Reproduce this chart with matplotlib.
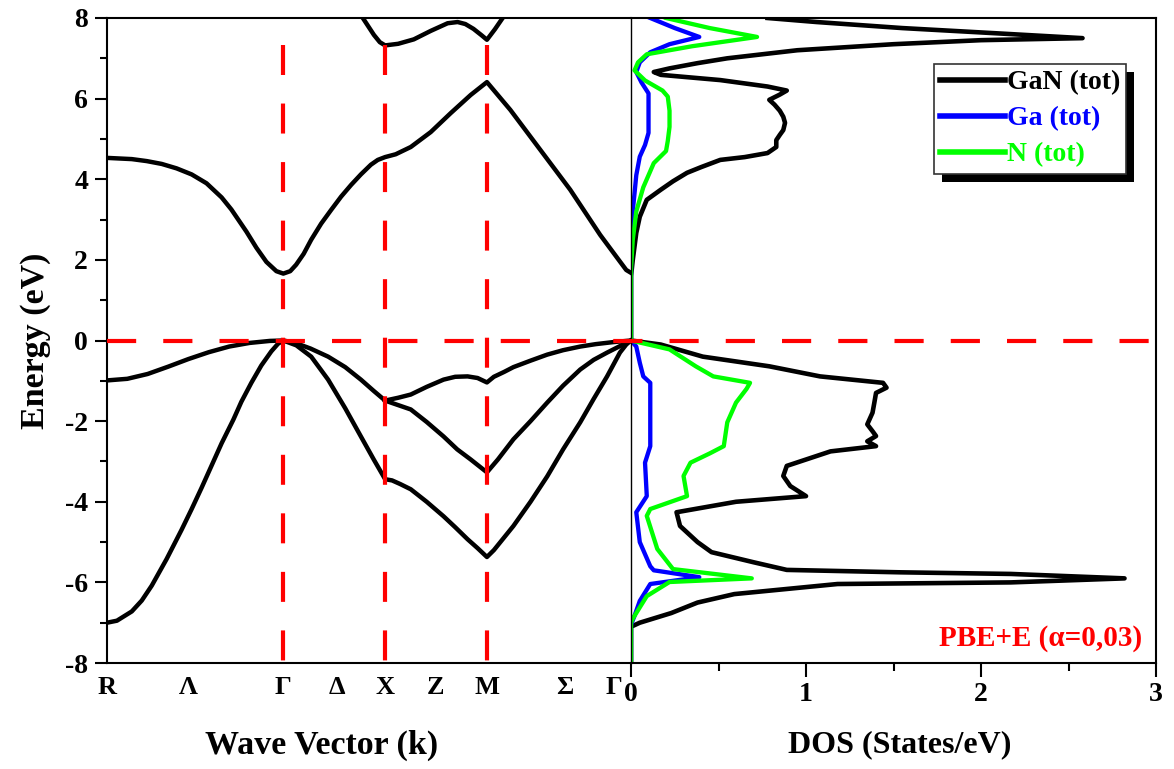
import matplotlib
matplotlib.use("Agg")
import matplotlib.pyplot as plt
from matplotlib.patches import Rectangle
from matplotlib.transforms import IdentityTransform
from matplotlib.ticker import MultipleLocator

plt.rcParams["font.family"] = ["Liberation Serif", "DejaVu Serif"]
plt.rcParams["font.weight"] = "bold"
plt.rcParams["axes.unicode_minus"] = False

# path R - Gamma - X - M - Gamma (k distance)
kpts = [0.0, 0.866, 1.366, 1.866, 2.573]
klabels = ["R", "Γ", "X", "M", ""]
kmid = [0.40, 1.13, 1.615, 2.25]
kmid_labels = ["Λ", "Δ", "Z", "Σ"]

# conduction bands
cb1_k = [0.0, 0.122, 0.196, 0.269, 0.342, 0.416, 0.489, 0.563, 0.611, 0.685, 0.734, 0.783, 0.832, 0.866,
         0.900, 0.929, 0.966, 1.003, 1.052, 1.101, 1.150, 1.199, 1.247, 1.296, 1.330, 1.366,
         1.418, 1.492, 1.590, 1.688, 1.786, 1.866,
         1.981, 2.128, 2.275, 2.422, 2.519, 2.550, 2.573]
cb1_e = [4.53, 4.50, 4.45, 4.38, 4.27, 4.12, 3.90, 3.55, 3.25, 2.70, 2.30, 1.95, 1.72, 1.66,
         1.72, 1.88, 2.15, 2.50, 2.90, 3.24, 3.57, 3.86, 4.12, 4.36, 4.48, 4.55,
         4.62, 4.80, 5.17, 5.64, 6.09, 6.41,
         5.72, 4.73, 3.74, 2.62, 1.96, 1.75, 1.68]

cb2_k = [1.250, 1.311, 1.340, 1.366, 1.43, 1.507, 1.59, 1.673, 1.722, 1.76, 1.80, 1.84, 1.866, 1.905, 1.950]
cb2_e = [8.05, 7.58, 7.40, 7.32, 7.36, 7.47, 7.68, 7.87, 7.90, 7.85, 7.73, 7.57, 7.46, 7.72, 8.05]

# valence bands
vb1_k = [0.0, 0.1, 0.2, 0.3, 0.4, 0.5, 0.6, 0.7, 0.8, 0.866,
         0.92, 1.0, 1.086, 1.17, 1.247, 1.31, 1.366,
         1.43, 1.492, 1.57, 1.653, 1.71, 1.771, 1.82, 1.866,
         1.90, 1.95, 1.996, 2.08, 2.162, 2.24, 2.324, 2.40, 2.485, 2.573]
vb1_e = [-0.99, -0.95, -0.83, -0.65, -0.46, -0.29, -0.15, -0.06, -0.01, 0.0,
         -0.05, -0.20, -0.40, -0.66, -0.97, -1.25, -1.49,
         -1.42, -1.34, -1.15, -0.97, -0.90, -0.89, -0.93, -1.04,
         -0.90, -0.78, -0.66, -0.50, -0.35, -0.24, -0.15, -0.09, -0.04, 0.0]

vb2_k = [1.366, 1.40, 1.492, 1.57, 1.653, 1.72, 1.786, 1.866,
         1.92, 1.996, 2.08, 2.162, 2.24, 2.324, 2.39, 2.456, 2.534, 2.573]
vb2_e = [-1.49, -1.55, -1.71, -2.02, -2.38, -2.70, -2.95, -3.27,
         -2.95, -2.45, -2.00, -1.54, -1.12, -0.72, -0.48, -0.30, -0.10, 0.0]

vb3_k = [0.0, 0.049, 0.122, 0.171, 0.220, 0.293, 0.366, 0.416, 0.465, 0.514, 0.563, 0.621, 0.66, 0.709,
         0.758, 0.807, 0.84, 0.866,
         0.93, 1.003, 1.086, 1.17, 1.247, 1.31, 1.366,
         1.40, 1.44, 1.492, 1.57, 1.653, 1.71, 1.771, 1.82, 1.866,
         1.90, 1.996, 2.08, 2.162, 2.24, 2.324, 2.39, 2.456, 2.519, 2.55, 2.573]
vb3_e = [-7.0, -6.95, -6.72, -6.45, -6.08, -5.42, -4.70, -4.18, -3.65, -3.10, -2.55, -1.96, -1.52, -1.05,
         -0.62, -0.27, -0.08, 0.0,
         -0.12, -0.40, -0.97, -1.68, -2.38, -2.95, -3.44,
         -3.47, -3.56, -3.69, -4.00, -4.36, -4.63, -4.93, -5.15, -5.37,
         -5.20, -4.60, -4.00, -3.37, -2.70, -2.03, -1.45, -0.89, -0.30, -0.10, 0.0]

# density of states
tot_e = [8.0, 7.9, 7.75, 7.62, 7.5, 7.45, 7.35, 7.2, 7.0, 6.88, 6.75, 6.66, 6.59, 6.46, 6.3, 6.2, 6.1,
         5.97, 5.85, 5.7, 5.55, 5.4, 5.22, 5.1, 4.97, 4.8, 4.65, 4.55, 4.48, 4.3, 4.16, 3.95, 3.74,
         3.49, 3.07, 2.67, 2.0, 1.6, 0.0, -0.1, -0.4, -0.64, -0.89, -1.05, -1.17, -1.3, -1.55, -1.79,
         -2.08, -2.25, -2.37, -2.5, -2.62, -2.75, -3.11, -3.36, -3.61, -3.86, -4.0, -4.26, -4.6, -5.0,
         -5.25, -5.5, -5.69, -5.75, -5.79, -5.9, -6.0, -6.04, -6.29, -6.5, -6.76, -7.0, -7.1, -8.0]
tot_dos = [0.78, 1.06, 1.55, 2.09, 2.58, 2.0, 1.5, 0.95, 0.55, 0.38, 0.22, 0.13, 0.17, 0.51, 0.78, 0.89, 0.85,
           0.79, 0.82, 0.85, 0.87, 0.88, 0.87, 0.85, 0.83, 0.83, 0.78, 0.65, 0.51, 0.40, 0.32, 0.24, 0.17,
           0.09, 0.05, 0.03, 0.01, 0.0, 0.0, 0.17, 0.41, 0.79, 1.08, 1.44, 1.46, 1.40, 1.39, 1.38,
           1.35, 1.38, 1.40, 1.35, 1.40, 1.14, 0.89, 0.87, 0.91, 1.00, 0.60, 0.26, 0.28, 0.38,
           0.46, 0.70, 0.89, 1.54, 2.17, 2.82, 2.17, 1.18, 0.59, 0.38, 0.23, 0.05, 0.0, 0.0]

ga_e = [8.0, 7.75, 7.53, 7.35, 7.15, 6.9, 6.66, 6.4, 6.13, 5.6, 5.15, 4.85, 4.56, 4.1, 3.65, 3.0, 2.0,
        0.0, -0.15, -0.55, -0.89, -1.05, -1.14, -2.0, -2.62, -3.03, -3.86, -4.26, -5.0, -5.6, -5.7,
        -5.87, -6.04, -6.46, -6.83, -7.05, -8.0]
ga_dos = [0.11, 0.25, 0.39, 0.22, 0.11, 0.05, 0.03, 0.06, 0.10, 0.10, 0.10, 0.08, 0.05, 0.03, 0.02, 0.005, 0.0,
          0.0, 0.03, 0.05, 0.07, 0.11, 0.11, 0.11, 0.11, 0.08, 0.09, 0.03, 0.05, 0.11, 0.13,
          0.39, 0.11, 0.05, 0.02, 0.0, 0.0]

n_e = [8.0, 7.75, 7.53, 7.3, 7.1, 6.9, 6.7, 6.45, 6.2, 6.05, 5.7, 5.3, 4.95, 4.7, 4.4, 4.1, 3.8, 3.2, 2.5, 1.8,
       0.0, -0.22, -0.64, -0.89, -1.05, -1.2, -1.54, -2.03, -2.62, -2.8, -3.03, -3.36, -3.86, -4.18, -4.35,
       -5.17, -5.67, -5.9, -5.99, -6.34, -6.9, -7.0, -8.0]
n_dos = [0.20, 0.45, 0.72, 0.35, 0.09, 0.04, 0.02, 0.08, 0.18, 0.21, 0.22, 0.22, 0.21, 0.20, 0.13, 0.10, 0.07, 0.03, 0.01, 0.0,
         0.0, 0.22, 0.37, 0.47, 0.68, 0.66, 0.60, 0.55, 0.53, 0.45, 0.34, 0.30, 0.32, 0.11, 0.09,
         0.15, 0.24, 0.69, 0.22, 0.09, 0.01, 0.0, 0.0]

RED = "#ff0000"
fig = plt.figure(figsize=(11.74, 7.69), dpi=100)
ax1 = fig.add_axes([0.0911, 0.1378, 0.4463, 0.8388])
ax2 = fig.add_axes([0.5375, 0.1378, 0.4472, 0.8388])

# band structure
for kk, ee in [(cb1_k, cb1_e), (cb2_k, cb2_e), (vb1_k, vb1_e), (vb2_k, vb2_e), (vb3_k, vb3_e)]:
    ax1.plot(kk, ee, color="black", lw=3.2, zorder=2, solid_joinstyle="round")

vdash = (0, (7.2, 6.85))
for k in kpts[1:4]:
    ax1.plot([k, k], [7.33, -8], color=RED, lw=3.0, ls=vdash, zorder=3)

ax1.set_xlim(kpts[0], kpts[-1])
ax1.set_ylim(-8, 8)
ax1.set_xticks(kpts + kmid)
ax1.set_xticklabels(klabels + kmid_labels)
ax1.tick_params(axis="x", length=0, pad=9, labelsize=19)
# last Gamma label sits just left of the DOS "0"
ax1.annotate("Γ", xy=(kpts[-1], 0), xycoords=ax1.get_xaxis_transform(), xytext=(-6, -9),
             textcoords="offset points", ha="right", va="top", fontsize=19, fontweight="bold")
ax1.yaxis.set_major_locator(MultipleLocator(2))
ax1.yaxis.set_minor_locator(MultipleLocator(1))
ax1.tick_params(axis="y", which="major", direction="out", length=8.5, width=1.5, pad=5, labelsize=20)
ax1.tick_params(axis="y", which="minor", direction="out", length=5, width=1.5)
for s in ["left", "top", "bottom"]:
    ax1.spines[s].set_linewidth(1.5)
ax1.spines["right"].set_visible(False)
ax1.set_ylabel("Energy (eV)", fontsize=24.5, fontweight="bold", labelpad=10)

# DOS
ax2.plot(tot_dos, tot_e, color="black", lw=3.3, label="GaN (tot)", zorder=2)
ax2.plot(ga_dos, ga_e, color="#0000ff", lw=3.1, label="Ga (tot)", zorder=2)
ax2.plot(n_dos, n_e, color="#00ff00", lw=3.1, label="N (tot)", zorder=2)

hdash = (0, (7.0, 6.5))
ax2.plot([-0.998, 1.027], [0, 0], transform=ax2.get_yaxis_transform(), color=RED, lw=3.0,
         ls=hdash, clip_on=False, zorder=3)

ax2.set_xlim(0, 3)
ax2.set_ylim(-8, 8)
ax2.xaxis.set_major_locator(MultipleLocator(1))
ax2.xaxis.set_minor_locator(MultipleLocator(0.5))
ax2.tick_params(axis="x", which="major", direction="out", length=10, width=1.5, pad=4, labelsize=20)
ax2.tick_params(axis="x", which="minor", direction="out", length=6, width=1.5)
ax2.tick_params(axis="y", left=False, labelleft=False)
for s in ["right", "top", "bottom"]:
    ax2.spines[s].set_linewidth(1.5)
ax2.spines["left"].set_linewidth(1.0)
ax2.xaxis.get_ticklabels()[0].set_horizontalalignment("left")

ax2.text(2.92, -7.4, "PBE+E (α=0,03)", color=RED, fontsize=21, fontweight="bold",
         ha="right", va="center")

leg = ax2.legend(loc="upper right", bbox_to_anchor=(1126 / 1174, 1 - 64 / 769),
                 bbox_transform=fig.transFigure, borderaxespad=0, fancybox=False,
                 edgecolor="#333333", framealpha=1, handlelength=2.35, handletextpad=0.05,
                 labelspacing=0.38, borderpad=0.22, prop=dict(size=20, weight="bold"))
leg.get_frame().set_linewidth(1.2)
for text, line in zip(leg.get_texts(), leg.get_lines()):
    text.set_color(line.get_color())
    line.set_linewidth(4)

fig.text(322 / 1174, 1 - 745 / 769, "Wave Vector (k)", fontsize=24.5, fontweight="bold",
         ha="center", va="center")
fig.text(900 / 1174, 1 - 745 / 769, "DOS (States/eV)", fontsize=23, fontweight="bold",
         ha="center", va="center")

# hard shadow behind the legend box
fig.canvas.draw()
bb = leg.get_window_extent()
ax2.add_artist(Rectangle((bb.x0 + 8, bb.y0 - 8), bb.width, bb.height, transform=IdentityTransform(),
                         facecolor="black", edgecolor="none", zorder=4.9, clip_on=False))

fig.savefig("out.png", dpi=100)
